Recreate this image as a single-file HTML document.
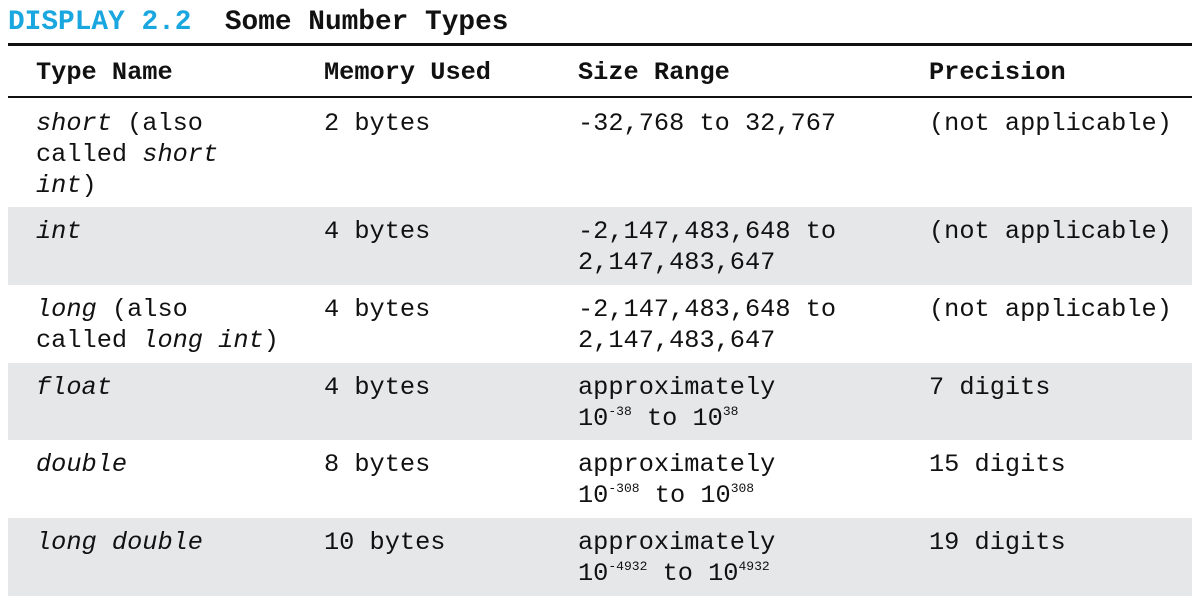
<!DOCTYPE html>
<html><head><meta charset="utf-8"><style>
body{margin:0;width:1197px;height:602px;background:#fff;position:relative;overflow:hidden;font-family:"Liberation Mono",monospace;color:#111}
.t{position:absolute;font-size:25.3px;line-height:31px;white-space:pre}
.g{position:absolute;left:8px;width:1184px;background:#e6e7e9}
.l{position:absolute;left:8px;width:1184px;background:#111}
i{font-style:italic}
sup{font-size:13px;vertical-align:0;position:relative;top:-10px}
</style></head><body>
<div class="t" style="left:8px;top:6px;font-size:27.8px;line-height:34px;font-weight:bold"><span style="color:#1aa7e0">DISPLAY 2.2</span>  Some Number Types</div>
<div class="l" style="top:43px;height:3px"></div>
<div class="l" style="top:96px;height:2px"></div>
<div class="g" style="top:207px;height:78px"></div>
<div class="g" style="top:363px;height:77px"></div>
<div class="g" style="top:518px;height:78px"></div>
<div class="t" style="left:36px;top:57px;font-weight:bold">Type Name</div>
<div class="t" style="left:324px;top:57px;font-weight:bold">Memory Used</div>
<div class="t" style="left:578px;top:57px;font-weight:bold">Size Range</div>
<div class="t" style="left:929px;top:57px;font-weight:bold">Precision</div>

<div class="t" style="left:36px;top:108px"><i>short</i> (also
called <i>short</i>
<i>int</i>)</div>
<div class="t" style="left:324px;top:108px">2 bytes</div>
<div class="t" style="left:578px;top:108px">-32,768 to 32,767</div>
<div class="t" style="left:929px;top:108px">(not applicable)</div>

<div class="t" style="left:36px;top:216px"><i>int</i></div>
<div class="t" style="left:324px;top:216px">4 bytes</div>
<div class="t" style="left:578px;top:216px">-2,147,483,648 to
2,147,483,647</div>
<div class="t" style="left:929px;top:216px">(not applicable)</div>

<div class="t" style="left:36px;top:294px"><i>long</i> (also
called <i>long int</i>)</div>
<div class="t" style="left:324px;top:294px">4 bytes</div>
<div class="t" style="left:578px;top:294px">-2,147,483,648 to
2,147,483,647</div>
<div class="t" style="left:929px;top:294px">(not applicable)</div>

<div class="t" style="left:36px;top:372px"><i>float</i></div>
<div class="t" style="left:324px;top:372px">4 bytes</div>
<div class="t" style="left:578px;top:372px">approximately
10<sup>-38</sup> to 10<sup>38</sup></div>
<div class="t" style="left:929px;top:372px">7 digits</div>

<div class="t" style="left:36px;top:449px"><i>double</i></div>
<div class="t" style="left:324px;top:449px">8 bytes</div>
<div class="t" style="left:578px;top:449px">approximately
10<sup>-308</sup> to 10<sup>308</sup></div>
<div class="t" style="left:929px;top:449px">15 digits</div>

<div class="t" style="left:36px;top:527px"><i>long double</i></div>
<div class="t" style="left:324px;top:527px">10 bytes</div>
<div class="t" style="left:578px;top:527px">approximately
10<sup>-4932</sup> to 10<sup>4932</sup></div>
<div class="t" style="left:929px;top:527px">19 digits</div>
</body></html>
